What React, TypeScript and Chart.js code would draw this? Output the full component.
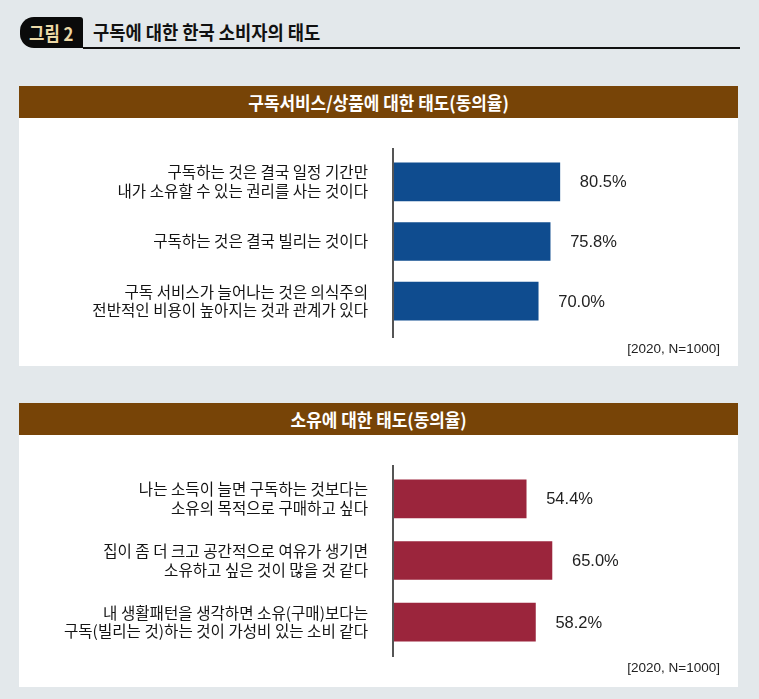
import React, { useEffect, useRef } from 'react';
import { Chart, registerables } from 'chart.js';

Chart.register(...registerables);

const subsLabels: (string | string[])[] = [
  ['구독하는 것은 결국 일정 기간만', '내가 소유할 수 있는 권리를 사는 것이다'],
  '구독하는 것은 결국 빌리는 것이다',
  ['구독 서비스가 늘어나는 것은 의식주의', '전반적인 비용이 높아지는 것과 관계가 있다'],
];
const subsValues = [80.5, 75.8, 70.0];

const ownLabels: (string | string[])[] = [
  ['나는 소득이 늘면 구독하는 것보다는', '소유의 목적으로 구매하고 싶다'],
  ['집이 좀 더 크고 공간적으로 여유가 생기면', '소유하고 싶은 것이 많을 것 같다'],
  ['내 생활패턴을 생각하면 소유(구매)보다는', '구독(빌리는 것)하는 것이 가성비 있는 소비 같다'],
];
const ownValues = [54.4, 65.0, 58.2];

const BG = '#e3e8eb';
const BROWN = '#774407';
const BLUE = '#0f4c8f';
const RED = '#9b253c';
const KFONT = "'Noto Sans CJK KR', 'Noto Sans', sans-serif";
const NFONT = "'Liberation Sans', Arial, sans-serif";

const valueLabelPlugin = {
  id: 'valueLabels',
  afterDatasetsDraw(chart: any) {
    const ctx = chart.ctx;
    const meta = chart.getDatasetMeta(0);
    const data = chart.data.datasets[0].data as number[];
    ctx.save();
    ctx.font = `16.5px ${NFONT}`;
    ctx.fillStyle = '#222';
    ctx.textAlign = 'left';
    ctx.textBaseline = 'middle';
    meta.data.forEach((bar: any, i: number) => {
      ctx.fillText(data[i].toFixed(1) + '%', bar.x + 20, bar.y + 1);
    });
    ctx.restore();
  },
};

const axisLinePlugin = {
  id: 'axisLine',
  afterDatasetsDraw(chart: any, _args: any, opts: any) {
    const { ctx, chartArea } = chart;
    ctx.save();
    ctx.strokeStyle = '#555';
    ctx.lineWidth = 2;
    ctx.beginPath();
    ctx.moveTo(chartArea.left - 1, chartArea.top - (opts.extTop || 0));
    ctx.lineTo(chartArea.left - 1, chartArea.bottom + (opts.extBottom || 0));
    ctx.stroke();
    ctx.restore();
  },
};

type BarProps = {
  labels: (string | string[])[];
  values: number[];
  color: string;
  width: number;
  height: number;
  padTop: number;
  padBottom: number;
  padRight: number;
  extTop: number;
  extBottom: number;
};

function BarChart(p: BarProps) {
  const ref = useRef<HTMLCanvasElement | null>(null);
  useEffect(() => {
    if (!ref.current) return;
    const chart = new Chart(ref.current, {
      type: 'bar',
      data: {
        labels: p.labels as any,
        datasets: [
          {
            data: p.values,
            backgroundColor: p.color,
            borderWidth: 0,
            barThickness: 38,
          },
        ],
      },
      options: {
        indexAxis: 'y',
        responsive: false,
        animation: false,
        layout: { padding: { top: p.padTop, bottom: p.padBottom, right: p.padRight, left: 0 } },
        plugins: {
          legend: { display: false },
          tooltip: { enabled: false },
          axisLine: { extTop: p.extTop, extBottom: p.extBottom },
        } as any,
        scales: {
          x: { display: false, min: 0, max: 100 },
          y: {
            afterFit: (scale: any) => {
              scale.width = 375;
              scale.paddingTop = 0;
              scale.paddingBottom = 0;
            },
            grid: { display: false, drawTicks: false },
            border: { display: false },
            ticks: {
              padding: 26,
              color: '#141414',
              font: { family: KFONT, size: 15.6, lineHeight: 1.2 },
            },
          },
        },
      },
      plugins: [valueLabelPlugin, axisLinePlugin],
    });
    return () => chart.destroy();
  }, []);
  return (
    <canvas
      ref={ref}
      width={p.width}
      height={p.height}
      style={{ width: p.width, height: p.height, display: 'block' }}
    />
  );
}

const abs = (l: number, t: number, w: number, h: number, extra: React.CSSProperties = {}): React.CSSProperties => ({
  position: 'absolute',
  left: l,
  top: t,
  width: w,
  height: h,
  ...extra,
});

function Header({ top, text }: { top: number; text: string }) {
  return (
    <div
      style={abs(19, top, 719, 32, {
        background: BROWN,
        display: 'flex',
        alignItems: 'center',
        justifyContent: 'center',
      })}
    >
      <span
        style={{
          display: 'inline-block',
          color: '#fff',
          fontFamily: KFONT,
          fontWeight: 700,
          fontSize: 18,
          lineHeight: '32px',
          transform: 'scaleX(0.94)',
          whiteSpace: 'nowrap',
        }}
      >
        {text}
      </span>
    </div>
  );
}

function Note({ top }: { top: number }) {
  return (
    <div
      style={abs(560, top, 160, 18, {
        textAlign: 'right',
        fontFamily: NFONT,
        fontSize: 13.5,
        lineHeight: '18px',
        color: '#222',
        zIndex: 2,
      })}
    >
      [2020, N=1000]
    </div>
  );
}

export default function App() {
  return (
    <div style={abs(0, 0, 759, 699, { background: BG, overflow: 'hidden' })}>
      <div
        style={abs(20, 17, 63, 31, {
          background: '#0a0a0a',
          borderRadius: '14px 3px 0 14px',
          display: 'flex',
          alignItems: 'center',
          justifyContent: 'center',
        })}
      >
        <span
          style={{
            display: 'inline-block',
            color: '#ecd8a6',
            fontFamily: KFONT,
            fontWeight: 700,
            fontSize: 19,
            lineHeight: '31px',
            transform: 'scaleX(0.88)',
            whiteSpace: 'nowrap',
          }}
        >
          그림 2
        </span>
      </div>
      <div style={abs(83, 47, 657, 1.5, { background: '#111' })} />
      <div
        style={abs(93, 17, 400, 30, {
          fontFamily: KFONT,
          fontWeight: 700,
          fontSize: 19,
          lineHeight: '30px',
          color: '#111',
          transform: 'scaleX(0.93)',
          transformOrigin: 'left center',
          whiteSpace: 'nowrap',
        })}
      >
        구독에 대한 한국 소비자의 태도
      </div>

      <div style={abs(19, 86, 719, 280, { background: '#fff' })} />
      <Header top={86} text="구독서비스/상품에 대한 태도(동의율)" />
      <div style={abs(19, 118, 719, 248)}>
        <BarChart
          labels={subsLabels}
          values={subsValues}
          color={BLUE}
          width={719}
          height={248}
          padTop={34}
          padBottom={35}
          padRight={719 - 375 - 206}
          extTop={4}
          extBottom={7}
        />
      </div>
      <Note top={340} />

      <div style={abs(19, 403, 719, 284, { background: '#fff' })} />
      <Header top={403} text="소유에 대한 태도(동의율)" />
      <div style={abs(19, 435, 719, 252)}>
        <BarChart
          labels={ownLabels}
          values={ownValues}
          color={RED}
          width={719}
          height={252}
          padTop={33}
          padBottom={34}
          padRight={719 - 375 - 243}
          extTop={3}
          extBottom={4}
        />
      </div>
      <Note top={659} />
    </div>
  );
}
